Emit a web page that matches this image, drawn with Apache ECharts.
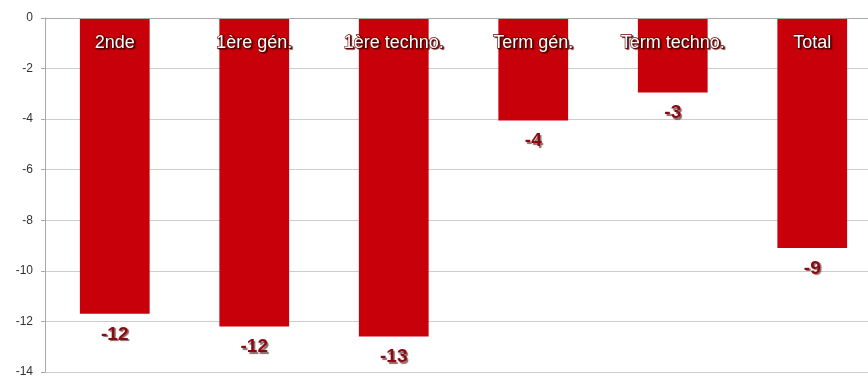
<!DOCTYPE html>
<html><head><meta charset="utf-8">
<script src="https://cdn.jsdelivr.net/npm/echarts@6/dist/echarts.min.js"></script>
<style>html,body{margin:0;padding:0;background:#fff}#c{width:868px;height:376px}</style>
</head><body><div id="c"></div>
<script>
const categories = ["2nde", "1ère gén.", "1ère techno.", "Term gén.", "Term techno.", "Total"];
const values = [-11.7, -12.2, -12.6, -4.05, -2.95, -9.1];
const yTicks = { min: -14, max: 0, interval: 2 };

const chart = echarts.init(document.getElementById('c'));
chart.setOption({
  animation: false,
  grid: { left: 45, right: -14, top: 18, bottom: 4, containLabel: false, outerBoundsMode: 'none' },
  xAxis: {
    type: 'category', data: categories, position: 'top',
    axisLine: { lineStyle: { color: '#aaa', width: 1 } },
    axisTick: { inside: true, length: 6, lineStyle: { color: '#aaa' } },
    axisLabel: {
      inside: true, margin: 16, fontSize: 18, color: '#fff',
      fontFamily: 'Liberation Sans, Arial, sans-serif',
      textBorderColor: '#6a0000', textBorderWidth: 1.3,
      textShadowColor: 'rgba(80,0,0,0.8)', textShadowOffsetX: 1.5, textShadowOffsetY: 1.5, textShadowBlur: 1
    },
    z: 10
  },
  yAxis: {
    type: 'value', min: yTicks.min, max: yTicks.max, interval: yTicks.interval,
    axisLine: { show: true, lineStyle: { color: '#aaa' } },
    axisTick: { show: true, length: 4, lineStyle: { color: '#aaa' } },
    axisLabel: { color: '#333', fontSize: 12, margin: 12, fontFamily: 'Liberation Sans, Arial, sans-serif' },
    splitLine: { lineStyle: { color: '#ccc' } }
  },
  series: [{
    type: 'bar', data: values, barWidth: '50%',
    itemStyle: { color: '#c8000a' },
    label: {
      show: true, position: 'bottom', distance: 11,
      formatter: p => String(Math.round(p.value)),
      fontSize: 19, fontWeight: 'bold', color: '#8a0a12',
      fontFamily: 'Liberation Sans, Arial, sans-serif',
      textShadowColor: 'rgba(60,0,0,0.6)', textShadowOffsetX: 1.5, textShadowOffsetY: 1.5, textShadowBlur: 1
    }
  }]
});
</script></body></html>
